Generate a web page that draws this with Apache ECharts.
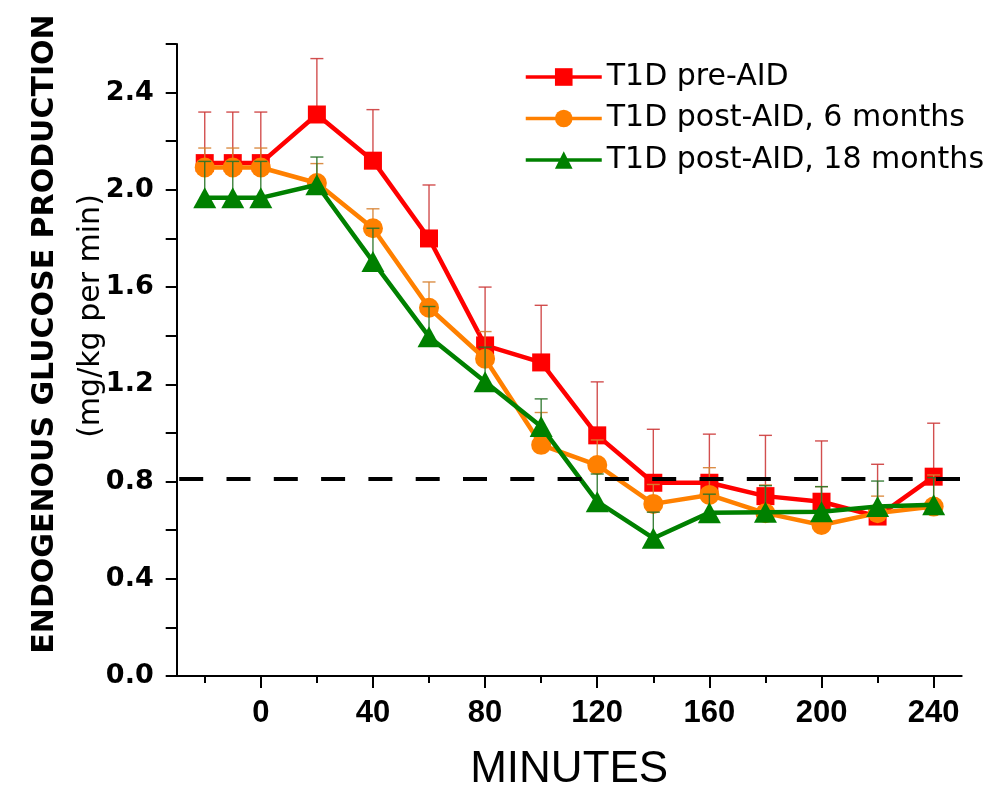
<!DOCTYPE html>
<html>
<head>
<meta charset="utf-8">
<script src="https://cdn.jsdelivr.net/npm/echarts@6/dist/echarts.min.js"></script>
<style>html,body{margin:0;padding:0;background:#fff}#c{width:998px;height:789px}</style>
</head>
<body>
<div id="c"></div>
<script>
// ---- data ----
const minutes = [-20, -10, 0, 20, 40, 60, 80, 100, 120, 140, 160, 180, 200, 220, 240];
const seriesNames = ['T1D pre-AID', 'T1D post-AID, 6 months', 'T1D post-AID, 18 months'];
const preAID      = [2.11, 2.11, 2.11, 2.31, 2.12, 1.80, 1.36, 1.29, 0.99, 0.795, 0.795, 0.74, 0.717, 0.656, 0.82];
const preAIDErr   = [0.21, 0.21, 0.21, 0.23, 0.21, 0.22, 0.24, 0.235, 0.22, 0.22, 0.20, 0.25, 0.25, 0.215, 0.22];
const post6       = [2.092, 2.092, 2.092, 2.028, 1.842, 1.515, 1.305, 0.951, 0.868, 0.708, 0.745, 0.670, 0.621, 0.670, 0.697];
const post6Err    = [0.08, 0.08, 0.08, 0.08, 0.08, 0.106, 0.112, 0.133, 0.103, 0.08, 0.112, 0.116, 0.158, 0.07, 0.13];
const post18      = [1.967, 1.967, 1.967, 2.021, 1.705, 1.396, 1.211, 1.026, 0.717, 0.567, 0.672, 0.674, 0.676, 0.697, 0.704];
const post18Err   = [0.15, 0.15, 0.15, 0.114, 0.137, 0.124, 0.142, 0.114, 0.114, 0.107, 0.076, 0.109, 0.103, 0.105, 0.112];
const referenceLevel = 0.81;
const xMajorTicks = [0, 40, 80, 120, 160, 200, 240];
const xMinorTicks = [-20, 20, 60, 100, 140, 180, 220];
const yTitle = 'ENDOGENOUS GLUCOSE PRODUCTION';
const ySubtitle = '(mg/kg per min)';
const xTitle = 'MINUTES';

// ---- styles ----
const colors = ['#ff0000', '#ff8000', '#008000'];
const errColors = ['rgba(205,60,60,0.9)', 'rgba(215,130,50,0.9)', 'rgba(40,115,40,0.9)'];
const symbols = ['rect', 'circle', 'triangle'];
const symbolSizes = [18, 20, [23, 21]];
const means = [preAID, post6, post18];
const errs = [preAIDErr, post6Err, post18Err];

const chart = echarts.init(document.getElementById('c'), null, {renderer: 'canvas'});

const series = [];
means.forEach((m, i) => {
  series.push({
    type: 'custom',
    name: 'err' + i,
    z: 2 + i * 2,
    silent: true,
    data: minutes.map((x, k) => [x, m[k], m[k] + errs[i][k]]),
    encode: {x: 0, y: [1, 2]},
    renderItem: function (params, api) {
      const p0 = api.coord([api.value(0), api.value(1)]);
      const p1 = api.coord([api.value(0), api.value(2)]);
      const hw = 6.5;
      const st = {stroke: errColors[i], lineWidth: 1.4};
      return {type: 'group', children: [
        {type: 'line', shape: {x1: p0[0], y1: p0[1], x2: p1[0], y2: p1[1]}, style: st},
        {type: 'line', shape: {x1: p1[0] - hw, y1: p1[1], x2: p1[0] + hw, y2: p1[1]}, style: st}
      ]};
    }
  });
  const s = {
    type: 'line',
    name: seriesNames[i],
    z: 3 + i * 2,
    data: minutes.map((x, k) => [x, m[k]]),
    symbol: symbols[i],
    symbolSize: symbolSizes[i],
    showAllSymbol: true,
    lineStyle: {color: colors[i], width: 4.5},
    itemStyle: {color: colors[i]},
    emphasis: {disabled: true}
  };
  if (i === 0) {
    s.markLine = {
      silent: true,
      z: 20,
      symbol: 'none',
      label: {show: false},
      lineStyle: {color: '#000', width: 4, type: [24, 23.3], dashOffset: -2.5},
      data: [{yAxis: referenceLevel}]
    };
  }
  series.push(s);
});

chart.setOption({
  animation: false,
  backgroundColor: '#fff',
  grid: {left: 176.7, right: 36.3, top: 44, bottom: 113, containLabel: false, outerBoundsMode: 'none'},
  legend: {
    data: seriesNames,
    orient: 'vertical',
    left: 519,
    top: 57,
    itemWidth: 76,
    itemHeight: 22,
    itemGap: 11.5,
    lineStyle: {width: 3.5},
    textStyle: {fontFamily: 'DejaVu Sans', fontSize: 30, color: '#000'},
    selectedMode: false
  },
  xAxis: [{
    type: 'value',
    min: -30, max: 250,
    axisLine: {onZero: false, lineStyle: {color: '#000', width: 2}},
    axisTick: {show: true, customValues: xMajorTicks, length: 12, lineStyle: {color: '#000', width: 2}},
    axisLabel: {customValues: xMajorTicks, margin: 22, fontFamily: 'Liberation Sans', fontWeight: 'bold', fontSize: 31, color: '#000'},
    splitLine: {show: false},
    name: xTitle,
    nameLocation: 'middle',
    nameGap: 72,
    nameTextStyle: {fontFamily: 'Liberation Sans', fontSize: 44, color: '#000'}
  }, {
    type: 'value',
    position: 'bottom',
    min: -30, max: 250,
    axisLine: {show: false, onZero: false},
    axisTick: {show: true, customValues: xMinorTicks, length: 7, lineStyle: {color: '#000', width: 2}},
    axisLabel: {show: false},
    splitLine: {show: false}
  }],
  yAxis: {
    type: 'value',
    min: 0, max: 2.6, interval: 0.2,
    axisLine: {show: true, onZero: false, lineStyle: {color: '#000', width: 2}},
    axisTick: {show: true, length: 11, lineStyle: {color: '#000', width: 2}},
    axisLabel: {
      margin: 23,
      fontFamily: 'DejaVu Sans', fontWeight: 'bold', fontSize: 27, color: '#000',
      formatter: function (v) {
        const r = v / 0.4;
        return Math.abs(r - Math.round(r)) < 1e-6 ? v.toFixed(1) : '';
      }
    },
    splitLine: {show: false}
  },
  graphic: [
    {type: 'text', x: 45, y: 334, rotation: Math.PI / 2,
     style: {text: yTitle, font: 'bold 30px "DejaVu Sans"', fill: '#000', align: 'center', verticalAlign: 'middle', textAlign: 'center', textVerticalAlign: 'middle'}},
    {type: 'text', x: 91, y: 316, rotation: Math.PI / 2,
     style: {text: ySubtitle, font: '30px "DejaVu Sans"', fill: '#000', align: 'center', verticalAlign: 'middle', textAlign: 'center', textVerticalAlign: 'middle'}}
  ],
  series: series
});
</script>
</body>
</html>
